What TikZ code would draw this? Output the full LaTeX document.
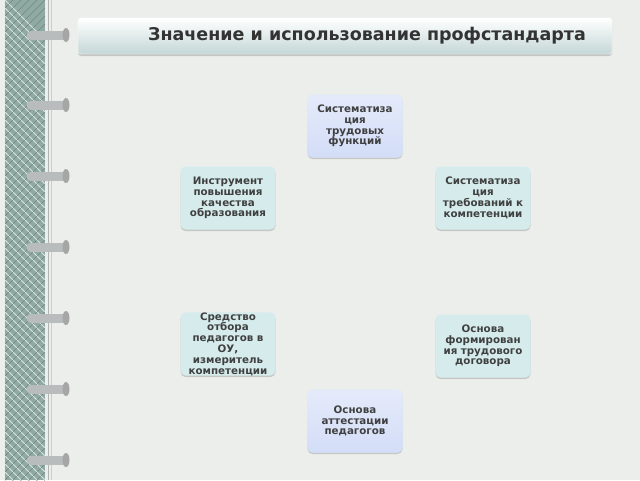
\documentclass[tikz,border=0pt]{standalone}
\usepackage{fontspec}
\setmainfont{DejaVu Sans}
\usetikzlibrary{shadows}
\definecolor{pagebg}{HTML}{EBEEEB}
\definecolor{tealbox}{HTML}{D6ECEC}
\definecolor{bluebox}{HTML}{D3DDF7}
\definecolor{plaid}{HTML}{8FA9A3}
\definecolor{ringc}{HTML}{B8BCBC}
\begin{document}
\begin{tikzpicture}[x=1pt,y=-1pt]
\tikzstyle{boxt}=[rectangle, rounded corners=5pt, fill=tealbox, minimum width=95pt, minimum height=63pt, text width=95pt, align=center, inner sep=0pt, font=\fontsize{10.3}{10.8}\selectfont\bfseries, text=black!75, drop shadow={opacity=0.35, shadow xshift=0pt, shadow yshift=-1.5pt}]
\tikzstyle{boxb}=[boxt, top color=bluebox!60!white, bottom color=bluebox]
\tikzstyle{ringstyle}=[line width=9pt, draw=ringc, line cap=round]

\fill[pagebg] (0,0) rectangle (640,480);
\useasboundingbox (0,0) rectangle (640,480);
% left plaid strip
\fill[plaid] (5,0) rectangle (45,480);
\foreach \k in {0,8,...,480}
  \draw[white!70!plaid, line width=1pt] (5,\k) -- (45,\k+40);
\foreach \k in {-40,-32,...,480}
  \draw[plaid!60!black, line width=0.6pt, opacity=0.5] (45,\k) -- (5,\k+40);
\draw[gray!60, line width=1pt] (48,0) -- (48,480);
\draw[gray!40, line width=0.6pt] (51,0) -- (51,480);
% rings
\foreach \y in {35,105,176,247,318,389,460} {
  \draw[ringstyle] (31,\y) -- (63,\y);
  \fill[gray!70] (66,\y) ellipse (3.5pt and 7pt);
}

% title
\node[rectangle, rounded corners=3pt, top color=white, bottom color=tealbox!80!gray, draw=white, minimum width=534pt, minimum height=36pt, drop shadow={opacity=0.35, shadow xshift=0pt, shadow yshift=-2pt}] (title) at (345,36) {};
\node[font=\fontsize{17.5}{19}\selectfont\bfseries, text=black!80] (titletext) at (367,36) {Значение и использование профстандарта};

\node[boxb] (sysfunc) at (355,126) {Систематиза\\ция\\трудовых\\функций};
\node[boxt] (instr) at (228,198) {Инструмент\\повышения\\качества\\образования};
\node[boxt] (systreb) at (483,198) {Систематиза\\ция\\требований к\\компетенции};
\node[boxt] (sredstvo) at (228,344) {Средство\\отбора\\педагогов в\\ОУ,\\измеритель\\компетенции};
\node[boxt] (osndog) at (483,346) {Основа\\формирован\\ия трудового\\договора};
\node[boxb] (osnatt) at (355,421) {Основа\\аттестации\\педагогов};
\end{tikzpicture}
\end{document}
